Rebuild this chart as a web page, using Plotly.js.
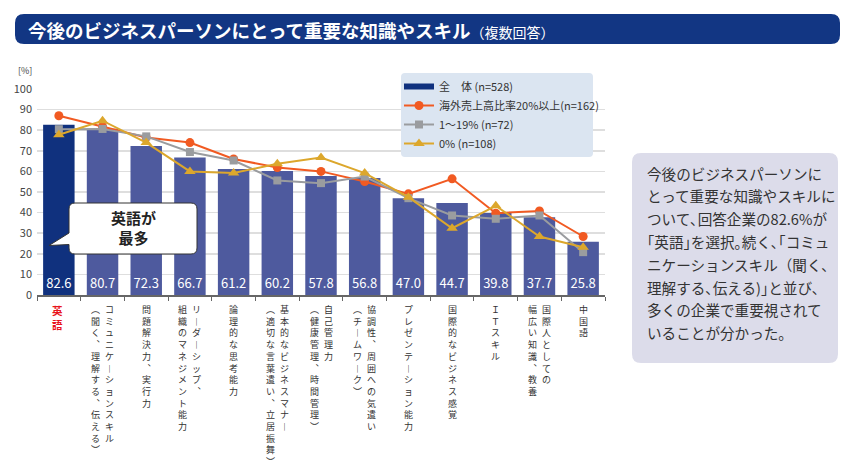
<!DOCTYPE html>
<html>
<head>
<meta charset="utf-8">
<script src="https://cdn.plot.ly/plotly-3.0.1.min.js"></script>
<style>
  body { margin: 0; background: #fff; }
  #chart { width: 850px; height: 472px; }
</style>
</head>
<body>
<div id="chart"></div>
<script>
// 項目（縦書きラベルは列ごと、右の列から）
const labelCols = [
  ["英語"],
  ["コミュニケーションスキル", "(聞く、理解する、伝える)"],
  ["問題解決力、実行力"],
  ["リーダーシップ、", "組織のマネジメント能力"],
  ["論理的な思考能力"],
  ["基本的なビジネスマナー", "(適切な言葉遣い、立居振舞)"],
  ["自己管理力", "(健康管理、時間管理)"],
  ["協調性、周囲への気遣い", "(チームワーク)"],
  ["プレゼンテーション能力"],
  ["国際的なビジネス感覚"],
  ["ＩＴスキル"],
  ["国際人としての", "幅広い知識、教養"],
  ["中国語"]
]
const categories = labelCols.map((c) => c.join(""))

// 値 [%]
const zentai = [82.6, 80.7, 72.3, 66.7, 61.2, 60.2, 57.8, 56.8, 47.0, 44.7, 39.8, 37.7, 25.8]
const kaigai20 = [87.0, 81.8, 76.5, 74.0, 66.0, 61.9, 60.0, 55.1, 49.1, 56.4, 39.7, 40.8, 28.4]
const kaigai1to19 = [80.5, 80.6, 77.0, 69.4, 65.3, 55.6, 54.3, 57.5, 47.0, 38.6, 37.0, 38.6, 20.8]
const kaigai0 = [77.8, 84.6, 74.0, 60.0, 59.2, 63.7, 66.7, 59.2, 47.5, 32.4, 43.3, 28.4, 23.2]

const seriesNames = ["全　体 (n=528)", "海外売上高比率20%以上(n=162)", "1～19% (n=72)", "0% (n=108)"]
const yTicks = [0, 10, 20, 30, 40, 50, 60, 70, 80, 90, 100]

const titleText = "今後のビジネスパーソンにとって重要な知識やスキル"
const titleSub = "（複数回答）"
const calloutText = "英語が<br>最多"
const noteLines = [
  "今後のビジネスパーソンに",
  "とって重要な知識やスキルに",
  "ついて､回答企業の82.6%が",
  "｢英語｣を選択｡続く､｢コミュ",
  "ニケーションスキル（聞く､",
  "理解する､伝える)｣と並び､",
  "多くの企業で重要視されて",
  "いることが分かった。"
]

const FONT = "'Noto Sans CJK JP', 'Noto Sans', sans-serif"
const NAVY = "#10317e"
const BAR = "#4e5a9e"

// plot area in pixels
const L = 37, R = 605, T = 89, B = 295
const px = (x) => (x - L) / (R - L)
const py = (y) => (B - y) / (B - T)
const pt = (x, y) => px(x) + "," + py(y)

function roundRect(x0, y0, x1, y1, r) {
  return "M" + pt(x0 + r, y0) +
    " L" + pt(x1 - r, y0) + " Q" + pt(x1, y0) + " " + pt(x1, y0 + r) +
    " L" + pt(x1, y1 - r) + " Q" + pt(x1, y1) + " " + pt(x1 - r, y1) +
    " L" + pt(x0 + r, y1) + " Q" + pt(x0, y1) + " " + pt(x0, y1 - r) +
    " L" + pt(x0, y0 + r) + " Q" + pt(x0, y0) + " " + pt(x0 + r, y0) + " Z"
}

function callout(x0, y0, x1, y1, r) {
  return "M" + pt(x0 + r, y0) +
    " L" + pt(x1 - r, y0) + " Q" + pt(x1, y0) + " " + pt(x1, y0 + r) +
    " L" + pt(x1, y1 - r) + " Q" + pt(x1, y1) + " " + pt(x1 - r, y1) +
    " L" + pt(x0 + r, y1) + " Q" + pt(x0, y1) + " " + pt(x0, y1 - r) +
    " L" + pt(x0, 244.5) + " L" + pt(49, 245.5) + " L" + pt(x0, 233) +
    " L" + pt(x0, y0 + r) + " Q" + pt(x0, y0) + " " + pt(x0 + r, y0) + " Z"
}

// 縦書き：縦組み用の字形にして一文字ずつ改行
const vertMap = { "(": "︵", ")": "︶", "、": "︑", "ー": "︱" }
function vertical(s) {
  return Array.from(s).map((ch) => vertMap[ch] || ch).join("<br>")
}

const annotations = []
labelCols.forEach((cols, i) => {
  cols.forEach((txt, j) => {
    const shift = cols.length === 1 ? 0 : (j === 0 ? 7 : -7)
    annotations.push({
      xref: "x", yref: "paper", x: categories[i], y: py(301),
      xanchor: "center", yanchor: "top", xshift: i === 0 ? -1 : shift, showarrow: false,
      text: i === 0 ? "<b>" + vertical(txt) + "</b>" : vertical(txt),
      font: i === 0 ? { size: 10.5, color: "#e8141c", family: FONT } : { size: 9, color: "#333", family: FONT }
    })
  })
})

const traces = [
  {
    // 凡例用（全体）
    x: [null], y: [null], type: "scatter", mode: "lines",
    name: seriesNames[0], line: { color: NAVY, width: 6 }
  },
  {
    x: categories, y: zentai, type: "bar", showlegend: false,
    marker: { color: zentai.map((v, i) => (i === 0 ? NAVY : BAR)) },
    text: zentai.map((v) => v.toFixed(1)),
    textposition: "inside", insidetextanchor: "start", textangle: 0,
    textfont: { color: "#ffffff", size: 13, family: FONT },
    cliponaxis: false
  },
  {
    x: categories, y: kaigai20, type: "scatter", mode: "lines+markers",
    name: seriesNames[1], line: { color: "#f15a22", width: 2 },
    marker: { symbol: "circle", size: 9, color: "#f15a22" }
  },
  {
    x: categories, y: kaigai1to19, type: "scatter", mode: "lines+markers",
    name: seriesNames[2], line: { color: "#9a9c9f", width: 2 },
    marker: { symbol: "square", size: 8, color: "#9a9c9f" }
  },
  {
    x: categories, y: kaigai0, type: "scatter", mode: "lines+markers",
    name: seriesNames[3], line: { color: "#dca72c", width: 2 },
    marker: { symbol: "triangle-up", size: 10, color: "#dca72c" }
  }
]

annotations.push({
  xref: "paper", yref: "paper", x: px(25), y: py(70), xanchor: "center", yanchor: "middle",
  showarrow: false, text: "[%]", font: { size: 9, color: "#444", family: FONT }
})
annotations.push({
  xref: "paper", yref: "paper", x: px(26), y: py(30), xanchor: "left", yanchor: "middle",
  showarrow: false,
  text: "<b>" + titleText + "</b><span style='font-size:14px'>" + titleSub + "</span>",
  font: { size: 18.5, color: "#ffffff", family: FONT }
})
annotations.push({
  xref: "paper", yref: "paper", x: px(133), y: py(228), xanchor: "center", yanchor: "middle",
  showarrow: false, text: "<b>" + calloutText + "</b>",
  font: { size: 15, color: "#222", family: FONT }
})
noteLines.forEach((line, i) => {
  annotations.push({
    xref: "paper", yref: "paper", x: px(645), y: py(173 + 22.8 * i),
    xanchor: "left", yanchor: "middle", showarrow: false, text: line,
    font: { size: 14.6, color: "#333", family: FONT }
  })
})

const shapes = [
  { type: "path", xref: "paper", yref: "paper", layer: "above", path: roundRect(15, 14, 840, 44, 9),
    fillcolor: "#123683", line: { width: 0 } },
  { type: "path", xref: "paper", yref: "paper", layer: "above", path: roundRect(632, 153, 838, 363, 9),
    fillcolor: "#dcdcea", line: { width: 0 } },
  { type: "path", xref: "paper", yref: "paper", layer: "above", path: roundRect(401, 73, 593, 157, 4),
    fillcolor: "#dbe5f1", line: { width: 0 } },
  { type: "path", xref: "paper", yref: "paper", layer: "above", path: callout(69, 203, 197, 254, 6),
    fillcolor: "#ffffff", line: { color: "#333", width: 1 } }
]

const layout = {
  width: 850, height: 472,
  margin: { l: L, r: 850 - R, t: T, b: 472 - B },
  paper_bgcolor: "#ffffff", plot_bgcolor: "#ffffff",
  font: { family: FONT, color: "#333" },
  bargap: 0.28,
  showlegend: true,
  legend: {
    x: px(399), y: py(72), xanchor: "left", yanchor: "top",
    bgcolor: "rgba(0,0,0,0)", font: { size: 11, color: "#333", family: FONT },
    traceorder: "normal", itemwidth: 30, tracegroupgap: 0
  },
  xaxis: {
    type: "category", range: [-0.5, categories.length - 0.5],
    showticklabels: false, showgrid: false,
    showline: true, linecolor: "#666", linewidth: 1.5,
    ticks: "outside", tickson: "boundaries", ticklen: 4, tickcolor: "#666"
  },
  yaxis: {
    range: [0, 100], tickvals: yTicks, showline: false, zeroline: false,
    gridcolor: "#dedede", gridwidth: 1.5, ticks: "",
    tickfont: { size: 11, color: "#444", family: FONT }, ticklabelstandoff: 4
  },
  uniformtext: { mode: "show", minsize: 13 },
  hovermode: false,
  shapes: shapes,
  annotations: annotations
}

Plotly.newPlot("chart", traces, layout, { displayModeBar: false, staticPlot: true })
</script>
</body>
</html>
